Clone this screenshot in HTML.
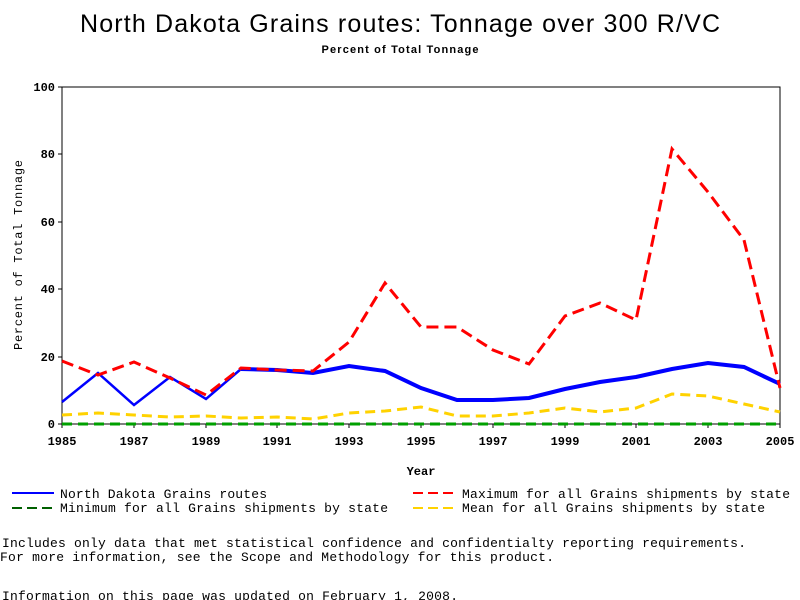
<!DOCTYPE html>
<html><head><meta charset="utf-8"><style>body{margin:0;background:#fff}svg{display:block}</style></head><body>
<svg width="800" height="600" xmlns="http://www.w3.org/2000/svg" font-family="Liberation Mono, monospace">
<rect width="800" height="600" fill="#fff"/>
<text x="400" y="32" text-anchor="middle" font-family="Liberation Sans, sans-serif" font-size="25" textLength="640">North Dakota Grains routes: Tonnage over 300 R/VC</text>
<text x="400" y="53" text-anchor="middle" font-family="Liberation Sans, sans-serif" font-size="11" font-weight="bold" textLength="157">Percent of Total Tonnage</text>
<rect x="62" y="87" width="718" height="337" fill="none" stroke="#000" stroke-width="1"/>
<g stroke="#000"><line x1="58" y1="87" x2="62" y2="87"/><line x1="58" y1="154" x2="62" y2="154"/><line x1="58" y1="222" x2="62" y2="222"/><line x1="58" y1="289" x2="62" y2="289"/><line x1="58" y1="357" x2="62" y2="357"/><line x1="58" y1="424" x2="62" y2="424"/></g>
<g font-size="12" font-weight="bold" text-anchor="end"><text x="55" y="91">100</text><text x="55" y="158">80</text><text x="55" y="226">60</text><text x="55" y="293">40</text><text x="55" y="361">20</text><text x="55" y="428">0</text></g>
<g stroke="#000"><line x1="62" y1="424" x2="62" y2="428"/><line x1="134" y1="424" x2="134" y2="428"/><line x1="206" y1="424" x2="206" y2="428"/><line x1="277" y1="424" x2="277" y2="428"/><line x1="349" y1="424" x2="349" y2="428"/><line x1="421" y1="424" x2="421" y2="428"/><line x1="493" y1="424" x2="493" y2="428"/><line x1="565" y1="424" x2="565" y2="428"/><line x1="636" y1="424" x2="636" y2="428"/><line x1="708" y1="424" x2="708" y2="428"/><line x1="780" y1="424" x2="780" y2="428"/></g>
<g font-size="12" font-weight="bold" text-anchor="middle"><text x="62" y="445">1985</text><text x="134" y="445">1987</text><text x="206" y="445">1989</text><text x="277" y="445">1991</text><text x="349" y="445">1993</text><text x="421" y="445">1995</text><text x="493" y="445">1997</text><text x="565" y="445">1999</text><text x="636" y="445">2001</text><text x="708" y="445">2003</text><text x="780" y="445">2005</text></g>
<text x="421" y="475" font-size="12" font-weight="bold" text-anchor="middle">Year</text>
<text transform="translate(22,255) rotate(-90)" font-size="12" text-anchor="middle" textLength="190">Percent of Total Tonnage</text>
<polyline fill="none" stroke="#00a000" stroke-width="3" stroke-dasharray="10,6" points="62,424 780,424"/>
<polyline fill="none" stroke="#ffd200" stroke-width="3" stroke-dasharray="10,6" points="62,415 98,413 134,415 170,417 206,416 241,418 277,417 313,419 349,413 385,411 421,407 457,416 493,416 529,413 565,408 600,412 636,408 672,394 708,396 744,404 780,412"/>
<polyline fill="none" stroke="#0000ff" stroke-width="2.5" points="62,402 98,373 134,405 170,377 206,399 241,369"/>
<polyline fill="none" stroke="#0000ff" stroke-width="4" points="241,369 277,370 313,373 349,366 385,371 421,388 457,400 493,400 529,398 565,389 600,382 636,377 672,369 708,363 744,367 780,384"/>
<polyline fill="none" stroke="#ff0000" stroke-width="3" stroke-dasharray="12,6" points="62,361 98,375 134,362 170,378 206,395 241,368 277,370 313,371 349,342 385,283 421,327 457,327 493,350 529,364 565,316 600,303 636,320 672,149 708,192 744,240 780,388"/>
<g stroke-width="2"><line x1="12" y1="493" x2="54" y2="493" stroke="#0000ff"/><line x1="12" y1="508" x2="54" y2="508" stroke="#006000" stroke-dasharray="10,5"/><line x1="413" y1="493" x2="455" y2="493" stroke="#ff0000" stroke-dasharray="10,5"/><line x1="413" y1="508" x2="455" y2="508" stroke="#ffd200" stroke-dasharray="10,5"/></g>
<g font-size="13"><text x="60" y="498" textLength="207">North Dakota Grains routes</text><text x="60" y="512" textLength="328">Minimum for all Grains shipments by state</text><text x="462" y="498" textLength="328">Maximum for all Grains shipments by state</text><text x="462" y="512" textLength="303">Mean for all Grains shipments by state</text></g>
<g font-size="13"><text x="2" y="547" textLength="744">Includes only data that met statistical confidence and confidentialty reporting requirements.</text><text x="0" y="561" textLength="554">For more information, see the Scope and Methodology for this product.</text><text x="2" y="600" textLength="456">Information on this page was updated on February 1, 2008.</text></g>
</svg>
</body></html>
